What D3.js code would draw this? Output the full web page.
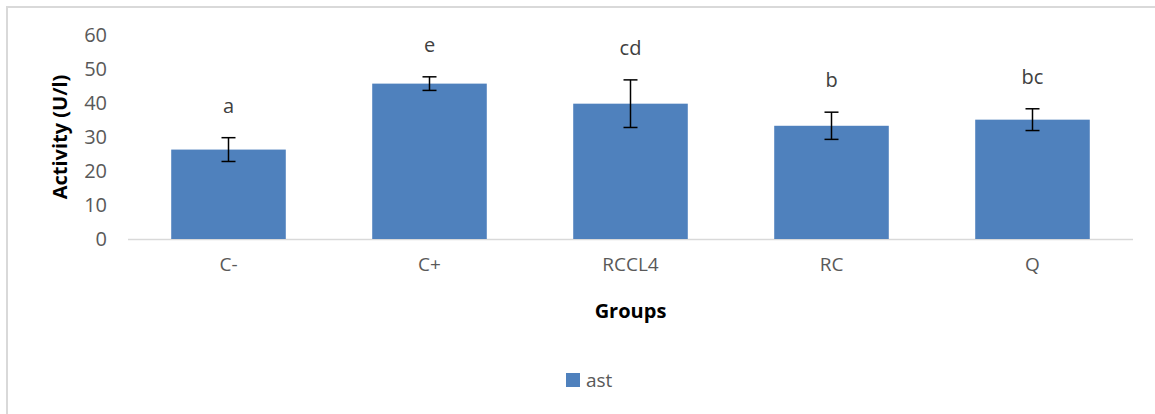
<!DOCTYPE html>
<html><head><meta charset="utf-8">
<script src="https://cdn.jsdelivr.net/npm/d3@7"></script>
<style>body{margin:0;background:#fff}svg{display:block}text{font-family:"Open Sans","DejaVu Sans",sans-serif}</style>
</head><body>
<svg id="c" width="1155" height="414"></svg>
<script>
const categories = ["C-","C+","RCCL4","RC","Q"];
const means = [26.3, 45.7, 39.8, 33.3, 35.1];
const errors = [3.5, 2.0, 7.0, 4.0, 3.2];
const letters = ["a","e","cd","b","bc"];
const yTicks = [0,10,20,30,40,50,60];
const seriesName = "ast";

const svg = d3.select("#c");
svg.append("rect").attr("x",7).attr("y",7).attr("width",1160).attr("height",420)
  .attr("fill","#fff").attr("stroke","#d9d9d9").attr("stroke-width",2);

const L=128, R=1133, T=35, B=239;
const x = d3.scaleBand().domain(categories).range([L,R]).paddingInner(0.43).paddingOuter(0.215);
const y = d3.scaleLinear().domain([0,60]).range([B,T]);

const yAxis = svg.append("g").attr("transform",`translate(${L},0)`)
  .call(d3.axisLeft(y).tickValues(yTicks).tickSize(0).tickPadding(21));
yAxis.select(".domain").remove();
yAxis.selectAll("text").attr("fill","#595959").style("font-size","20px");

svg.append("line").attr("x1",L).attr("x2",R).attr("y1",B+0.5).attr("y2",B+0.5).attr("stroke","#d9d9d9").attr("stroke-width",1.5);

const xAxis = svg.append("g").attr("transform",`translate(0,${B})`)
  .call(d3.axisBottom(x).tickSize(0).tickPadding(19));
xAxis.select(".domain").remove();
xAxis.selectAll("text").attr("fill","#595959").style("font-size","19px");

const data = categories.map((c,i)=>({c, m:means[i], e:errors[i], l:letters[i]}));
svg.selectAll("rect.bar").data(data).enter().append("rect").attr("class","bar")
  .attr("x",d=>x(d.c)).attr("width",x.bandwidth())
  .attr("y",d=>y(d.m)).attr("height",d=>y(0)-y(d.m)).attr("fill","#4f81bd");

const eb = svg.append("g").attr("stroke","#000").attr("stroke-width",1.5);
data.forEach(d=>{
  const cx = x(d.c)+x.bandwidth()/2;
  eb.append("line").attr("x1",cx).attr("x2",cx).attr("y1",y(d.m+d.e)).attr("y2",y(d.m-d.e));
  eb.append("line").attr("x1",cx-7).attr("x2",cx+7).attr("y1",y(d.m+d.e)).attr("y2",y(d.m+d.e));
  eb.append("line").attr("x1",cx-7).attr("x2",cx+7).attr("y1",y(d.m-d.e)).attr("y2",y(d.m-d.e));
});

svg.selectAll("text.lbl").data(data).enter().append("text").attr("class","lbl")
  .attr("x",d=>x(d.c)+x.bandwidth()/2).attr("y",d=>y(d.m+d.e)-25)
  .attr("text-anchor","middle").attr("fill","#404040").style("font-size","20px").text(d=>d.l);

svg.append("text").attr("transform",`translate(67,${(T+B)/2}) rotate(-90)`)
  .attr("text-anchor","middle").attr("font-weight","bold").style("font-size","20px").attr("fill","#000")
  .text("Activity (U/l)");

svg.append("text").attr("x",(L+R)/2).attr("y",318).attr("text-anchor","middle")
  .attr("font-weight","bold").style("font-size","20px").attr("fill","#000").text("Groups");

const lg = svg.append("g");
lg.append("rect").attr("x",566).attr("y",373).attr("width",14).attr("height",14).attr("fill","#4f81bd");
lg.append("text").attr("x",586).attr("y",387).attr("fill","#595959").style("font-size","19px").text(seriesName);
</script>
</body></html>
